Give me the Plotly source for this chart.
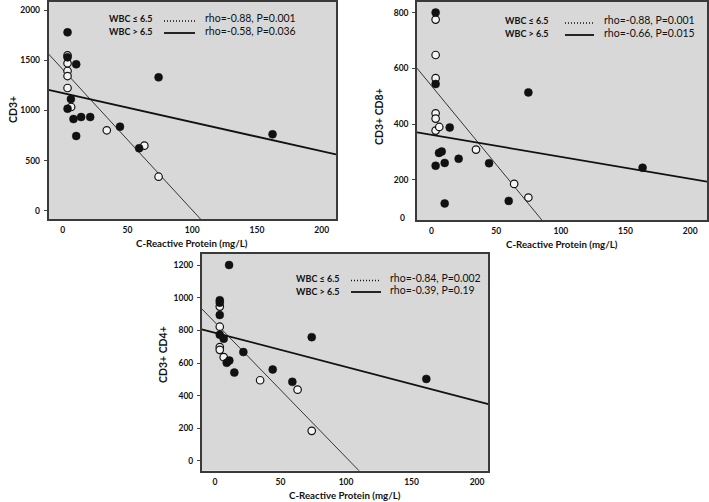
import plotly.graph_objects as go

W, H = 709, 502

crp_ticks = [0, 50, 100, 150, 200]

# Panel 1: CD3+
p1_hi_crp = [3.7, 3.7, 10.4, 74, 6.3, 3.7, 8.3, 14.2, 21.2, 10.4, 44.2, 59, 162]
p1_hi_val = [1778, 1529, 1460, 1330, 1114, 1018, 915, 935, 935, 746, 839, 624, 763]
p1_lo_crp = [3.7, 3.7, 3.7, 3.7, 3.7, 6.5, 34, 63, 74]
p1_lo_val = [1549, 1470, 1393, 1343, 1224, 1035, 803, 650, 341]
p1_yticks = [0, 500, 1000, 1500, 2000]

# Panel 2: CD3+ CD8+
p2_hi_crp = [3.2, 3.2, 74.9, 14.1, 5.8, 7.9, 3.2, 10.2, 21, 44.5, 10.2, 59.7, 163.2]
p2_hi_val = [800, 544, 514, 388, 297, 302, 251, 261, 276, 260, 116, 125, 244]
p2_lo_crp = [3.2, 3.2, 3.2, 3.2, 3.2, 3.2, 6, 34.4, 63.9, 74.9]
p2_lo_val = [775, 648, 565, 439, 420, 377, 390, 309, 186, 137]
p2_yticks = [200, 400, 600, 800]

# Panel 3: CD3+ CD4+
p3_hi_crp = [10.7, 3.6, 3.6, 3.6, 3.6, 6.6, 21.6, 73.8, 8.9, 10.9, 14.7, 44, 59, 161.3]
p3_hi_val = [1202, 986, 971, 895, 774, 749, 667, 759, 601, 615, 541, 560, 484, 502]
p3_lo_crp = [3.6, 3.6, 3.6, 3.6, 6.6, 34.4, 63, 73.8]
p3_lo_val = [947, 823, 698, 681, 636, 494, 436, 183]
p3_yticks = [0, 200, 400, 600, 800, 1000, 1200]

# Regression lines (intercept, slope)
fit_lo = [(1409, -14.0), (537.5, -5.64), (849, -8.29)]   # WBC <= 6.5 (dotted in legend)
fit_hi = [(1174, -2.90), (362, -0.79), (786, -2.10)]     # WBC > 6.5 (solid)

rho_lo = ["rho=-0.88, P=0.001", "rho=-0.88, P=0.001", "rho=-0.84, P=0.002"]
rho_hi = ["rho=-0.58, P=0.036", "rho=-0.66, P=0.015", "rho=-0.39, P=0.19"]
ytitles = ["CD3+", "CD3+ CD8+", "CD3+ CD4+"]
xtitle = "C-Reactive Protein (mg/L)"

# layout geometry (pixels)
boxes = [(48.5, 336, 2, 219), (417, 707, 2, 220), (201.7, 488.3, 254, 470.7)]
xranges = [[-11, 211], [-11.2, 213], [-10.2, 208.6]]
yranges = [[-80, 2080], [56.5, 838], [-62, 1270]]
yticks = [p1_yticks, p2_yticks, p3_yticks]

FONT = "Lato, sans-serif"
BG = "#d8d8d8"

fig = go.Figure()

def px(x):
    return x / W

def py(y):
    return 1 - y / H

data = [
    (p1_hi_crp, p1_hi_val, p1_lo_crp, p1_lo_val),
    (p2_hi_crp, p2_hi_val, p2_lo_crp, p2_lo_val),
    (p3_hi_crp, p3_hi_val, p3_lo_crp, p3_lo_val),
]

annotations = []
shapes = []

for i in range(3):
    sfx = "" if i == 0 else str(i + 1)
    xa, ya = "x" + sfx, "y" + sfx
    hx, hy, lx, ly = data[i]
    xr = xranges[i]
    b, m = fit_lo[i]
    fig.add_trace(go.Scatter(x=xr, y=[b + m * xr[0], b + m * xr[1]], mode="lines",
                             line=dict(color="#222", width=0.9), xaxis=xa, yaxis=ya,
                             showlegend=False, hoverinfo="skip"))
    b, m = fit_hi[i]
    fig.add_trace(go.Scatter(x=xr, y=[b + m * xr[0], b + m * xr[1]], mode="lines",
                             line=dict(color="#111", width=1.8), xaxis=xa, yaxis=ya,
                             showlegend=False, hoverinfo="skip"))
    fig.add_trace(go.Scatter(x=lx, y=ly, mode="markers", xaxis=xa, yaxis=ya,
                             marker=dict(size=7.5, color="#f4f4f4", line=dict(color="#111", width=1.2)),
                             showlegend=False, cliponaxis=False))
    fig.add_trace(go.Scatter(x=hx, y=hy, mode="markers", xaxis=xa, yaxis=ya,
                             marker=dict(size=8, color="#111", line=dict(color="#111", width=0.5)),
                             showlegend=False, cliponaxis=False))

    l, r, t, btm = boxes[i]
    axcommon = dict(showline=True, mirror=True, linecolor="#3a3a3a", linewidth=1.5,
                    showgrid=False, zeroline=False,
                    tickfont=dict(family=FONT, size=8.5, color="#111", weight="bold"))
    fig.update_layout(**{
        ("xaxis" + sfx): dict(domain=[px(l), px(r)], range=xr, anchor=ya,
                              tickvals=crp_ticks, ticks="", ticklabelstandoff=2, **axcommon),
        ("yaxis" + sfx): dict(domain=[py(btm), py(t)], range=yranges[i], anchor=xa,
                              tickvals=yticks[i], ticks="outside", ticklen=3, tickwidth=1,
                              tickcolor="#444", ticklabelstandoff=2, **axcommon),
    })
    annotations.append(dict(text=xtitle, xref="paper", yref="paper", x=px((l + r) / 2),
                            y=py(btm + 24), xanchor="center", yanchor="middle", showarrow=False,
                            font=dict(family=FONT, size=9.7, color="#111", weight="bold")))

ytitle_pos = [(13, 110), (379, 116), (163, 355)]
for i in range(3):
    x0, y0 = ytitle_pos[i]
    annotations.append(dict(text=ytitles[i], xref="paper", yref="paper", x=px(x0), y=py(y0),
                            xanchor="center", yanchor="middle", showarrow=False, textangle=-90,
                            font=dict(family=FONT, size=10.5, color="#111", weight="bold")))

# legends: (wbc_left, sample_l, sample_r, rho_left, row1_y, row2_y)
legpos = [(107, 164, 195, 203, 19, 32), (503, 565, 594, 602, 21, 34), (294, 351, 381, 388, 278.5, 291)]
for i in range(3):
    wl, sl, sr, rl, y1, y2 = legpos[i]
    for txt, yy in (("WBC ≤ 6.5", y1), ("WBC > 6.5", y2)):
        annotations.append(dict(text=txt, xref="paper", yref="paper", x=px(wl), y=py(yy),
                                xanchor="left", yanchor="middle", showarrow=False,
                                font=dict(family=FONT, size=9, color="#111", weight="bold")))
    for txt, yy in ((rho_lo[i], y1), (rho_hi[i], y2)):
        annotations.append(dict(text=txt, xref="paper", yref="paper", x=px(rl), y=py(yy - 1),
                                xanchor="left", yanchor="middle", showarrow=False,
                                font=dict(family=FONT, size=10.5, color="#111")))
    shapes.append(dict(type="line", xref="paper", yref="paper", x0=px(sl), x1=px(sr),
                       y0=py(y1 + 2), y1=py(y1 + 2), line=dict(color="#111", width=1.5, dash="1px,2px")))
    shapes.append(dict(type="line", xref="paper", yref="paper", x0=px(sl), x1=px(sr),
                       y0=py(y2 + 1), y1=py(y2 + 1), line=dict(color="#111", width=1.8)))

# the "0" label drawn at the bottom of the CD3+ CD8+ axis in the reference
annotations.append(dict(text="0", xref="paper", yref="paper", x=px(407), y=py(218),
                        xanchor="right", yanchor="middle", showarrow=False,
                        font=dict(family=FONT, size=8.5, color="#111", weight="bold")))

fig.update_layout(width=W, height=H, margin=dict(l=0, r=0, t=0, b=0),
                  paper_bgcolor="white", plot_bgcolor=BG,
                  annotations=annotations, shapes=shapes, showlegend=False)

fig.write_html("out.html", config={"displayModeBar": False},
               post_script="document.body.style.margin='0';document.body.style.overflow='hidden';")
